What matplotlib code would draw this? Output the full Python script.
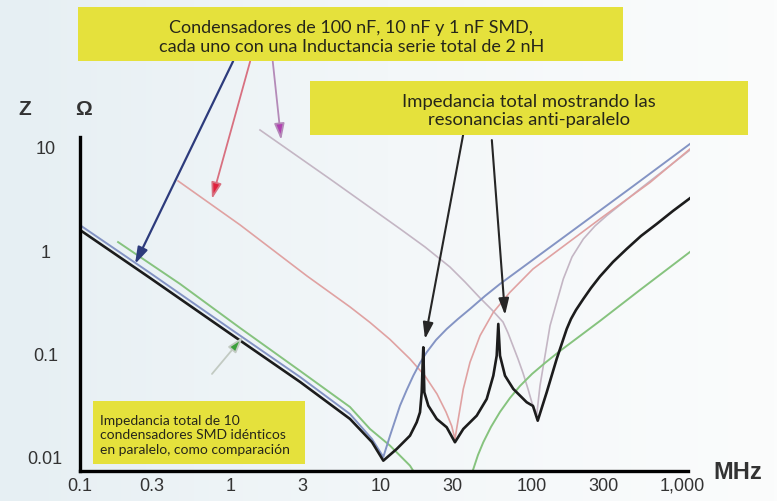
import numpy as np
import matplotlib.pyplot as plt
from matplotlib.colors import LinearSegmentedColormap
from matplotlib.patches import Rectangle
from matplotlib.ticker import FixedLocator, NullLocator

# Frequencies in MHz, impedance in ohms
f_100n = [0.1, 0.292, 1.0, 2.9, 6.22, 8.71, 10.36, 11.48, 13.37, 14.82, 16.39, 18.16, 20.12,
          23.2, 27.32, 32.47, 39.03, 49.09, 61.75, 171.4, 475, 1130]
z_100n = [1.75, 0.603, 0.173, 0.0593, 0.026, 0.0149, 0.00998, 0.01604, 0.0313, 0.04443, 0.0611,
          0.0811, 0.103, 0.1354, 0.173, 0.2163, 0.2703, 0.361, 0.4719, 1.406, 4.19, 10.7]

f_10n = [0.448, 1.157, 3.22, 6.22, 8.45, 11.48, 15.58, 19.61, 23.56, 27.03, 29.49, 31.0, 32.62,
         35.22, 39.03, 45.5, 55.75, 71.94, 102.3, 285, 613, 1130]
z_10n = [4.69, 1.76, 0.564, 0.283, 0.2, 0.1369, 0.0887, 0.0607, 0.0406, 0.02721, 0.01991, 0.0149,
         0.0233, 0.0454, 0.0824, 0.149, 0.251, 0.392, 0.659, 2.01, 4.53, 9.56]

f_1n = [1.57, 4.58, 13.4, 19.61, 28.7, 36.14, 45.5, 54.65, 64.66, 69.82, 75.36, 81.36, 87.8, 94.8,
        100.8, 108.3, 113.9, 132.8, 162.7, 185.8, 221, 264.2, 316, 526, 1130]
z_1n = [14.6, 4.90, 1.61, 1.076, 0.689, 0.4934, 0.3453, 0.2643, 0.2022, 0.1582, 0.1185, 0.0887,
        0.0649, 0.0454, 0.0332, 0.02544, 0.0489, 0.1862, 0.5275, 0.861, 1.286, 1.719, 2.163, 3.92,
        9.35]

f_total = [0.1, 0.292, 1.0, 2.9, 6.22, 8.71, 10.36, 12.72, 15.58, 17.27, 18.16, 18.64, 18.93,
           19.10, 19.40, 20.62, 23.45, 27.32, 31.0, 35.22, 43.25, 50.4, 55.75, 58.72, 60.17,
           61.75, 66.66, 75.7, 92.9, 102.3, 110.0, 126.2, 147.0, 171.4, 183.0, 197.6, 221, 248.5,
           285, 348, 429, 534, 679, 871, 1130]
z_total = [1.57, 0.539, 0.155, 0.0531, 0.0233, 0.0139, 0.00919, 0.01193, 0.01604, 0.02163,
           0.02703, 0.04221, 0.0824, 0.115, 0.0422, 0.0313, 0.0233, 0.01934, 0.01385, 0.01862,
           0.02505, 0.03635, 0.0611, 0.0954, 0.1935, 0.0954, 0.0611, 0.04544, 0.03378, 0.0311,
           0.0224, 0.0422, 0.0887, 0.173, 0.2163, 0.2643, 0.3378, 0.4315, 0.5577, 0.7705, 1.03,
           1.375, 1.798, 2.402, 3.19]

f_10x = [0.179, 0.462, 1.157, 2.9, 6.22, 8.45, 11.48, 15.58, 28.7, 40.05, 44.1, 47.83, 53.8,
         61.75, 71.94, 83.9, 100.8, 122.9, 154.6, 210, 285, 526, 1130]
z_10x = [1.20, 0.472, 0.177, 0.0679, 0.0304, 0.01862, 0.01284, 0.00822, 0.002, 0.00683, 0.01043,
         0.01385, 0.01948, 0.02721, 0.03717, 0.04859, 0.0635, 0.0811, 0.1060, 0.1481, 0.2068,
         0.4127, 0.963]

x_ticks = [0.1, 0.3, 1, 3, 10, 30, 100, 300, 1000]
x_tick_labels = ['0.1', '0.3', '1', '3', '10', '30', '100', '300', '1,000']
y_ticks = [10, 1, 0.1, 0.01]
y_tick_labels = ['10', '1', '0.1', '0.01']

# Arrow targets on the curves (MHz, ohm)
arrow_100n = (0.232, 0.737)
arrow_10n = (0.753, 3.14)
arrow_1n = (2.17, 11.7)
arrow_10x = (1.21, 0.145)
arrow_10x_tail = (0.753, 0.0635)
arrow_peak1 = (19.6, 0.138)
arrow_peak2 = (66.7, 0.236)

YELLOW = '#e5e13c'
TEXT_DARK = '#26261a'


def main():
    fig = plt.figure(figsize=(7.77, 5.02), dpi=100)
    fig.patch.set_facecolor('#eef4f6')

    # soft background shading like the photographed slide
    bg = fig.add_axes([0, 0, 1, 1], zorder=-5)
    grad = np.linspace(0, 1, 256)[None, :]
    bg.imshow(grad, aspect='auto', extent=[0, 1, 0, 1],
              cmap=LinearSegmentedColormap.from_list('bg', ['#e6eff3', '#f3f7f9', '#fbfcfc']))
    bg.axis('off')

    ax = fig.add_axes([0.103, 0.0598, 0.785, 0.7074])
    ax.set_facecolor('none')
    ax.set_xscale('log')
    ax.set_yscale('log')
    ax.set_xlim(0.1, 1130)
    ax.set_ylim(0.0073, 20)

    ax.plot(f_1n, z_1n, color='#c4b6c4', lw=1.2)
    ax.plot(f_10n, z_10n, color='#e0a2a2', lw=1.2)
    ax.plot(f_10x, z_10x, color='#86c37e', lw=1.4)
    ax.plot(f_100n, z_100n, color='#8494c4', lw=1.4)
    ax.plot(f_total, z_total, color='#1c1c1c', lw=1.9)

    for side in ['top', 'right']:
        ax.spines[side].set_visible(False)
    ax.spines['left'].set_linewidth(2.4)
    ax.spines['bottom'].set_linewidth(2.4)
    ax.spines['left'].set_bounds(0.0073, 12.5)
    ax.spines['bottom'].set_bounds(0.1, 1097)

    ax.xaxis.set_major_locator(FixedLocator(x_ticks))
    ax.xaxis.set_minor_locator(NullLocator())
    ax.yaxis.set_major_locator(FixedLocator(y_ticks))
    ax.yaxis.set_minor_locator(NullLocator())
    ax.set_xticklabels(x_tick_labels)
    ax.set_yticklabels(y_tick_labels)
    ax.tick_params(axis='both', length=0, labelsize=13, labelcolor='#333333')
    ax.tick_params(axis='x', pad=4)
    ax.tick_params(axis='y', pad=25)
    for lab in ax.get_yticklabels():
        lab.set_horizontalalignment('center')
        lab.set_family('Liberation Sans')
    for lab in ax.get_xticklabels():
        lab.set_family('Liberation Sans')

    fig.text(0.032, 0.782, 'Z', fontsize=15, fontweight='bold', color='#333333',
             ha='center', va='center', family='Liberation Sans')
    fig.text(0.107, 0.782, 'Ω', fontsize=15, fontweight='bold', color='#333333',
             ha='center', va='center', family='Liberation Sans')
    fig.text(0.950, 0.058, 'MHz', fontsize=17, fontweight='bold', color='#333333',
             ha='center', va='center', family='Liberation Sans')

    # yellow call-out boxes
    for rect in [(0.1004, 0.8765, 0.7014, 0.1076),
                 (0.399, 0.729, 0.5637, 0.1076),
                 (0.1197, 0.0737, 0.273, 0.1255)]:
        fig.patches.append(Rectangle(rect[:2], rect[2], rect[3], transform=fig.transFigure,
                                     facecolor=YELLOW, edgecolor='none', zorder=2))

    fig.text(0.452, 0.925, 'Condensadores de 100 nF, 10 nF y 1 nF SMD,\n'
             'cada uno con una Inductancia serie total de 2 nH',
             ha='center', va='center', fontsize=13, color=TEXT_DARK, family='Lato',
             linespacing=1.25, zorder=3)
    fig.text(0.681, 0.779, 'Impedancia total mostrando las\nresonancias anti-paralelo',
             ha='center', va='center', fontsize=13.3, color=TEXT_DARK, family='Lato',
             linespacing=1.22, zorder=3)
    fig.text(0.129, 0.1325, 'Impedancia total de 10\ncondensadores SMD idénticos\n'
             'en paralelo, como comparación',
             ha='left', va='center', fontsize=10, color=TEXT_DARK, family='Lato',
             linespacing=1.25, zorder=3)

    # arrows from the boxes to the curves
    def arrow(target, tail, line_col, head_col, lw=1.3, coords='figure fraction'):
        ax.annotate('', xy=target, xycoords='data', xytext=tail, textcoords=coords,
                    annotation_clip=False,
                    arrowprops=dict(arrowstyle='-|>,head_length=0.7,head_width=0.22',
                                    ec=line_col, fc=head_col, lw=lw,
                                    shrinkA=0, shrinkB=0, mutation_scale=14))

    arrow(arrow_100n, (0.300, 0.876), '#2d3b7c', '#2d3b7c', lw=1.6)
    arrow(arrow_10n, (0.322, 0.876), '#d87080', '#e0203c')
    arrow(arrow_1n, (0.351, 0.876), '#b48ab8', '#b040b0')
    arrow(arrow_10x, arrow_10x_tail, '#c2cac2', '#3ca03c', coords='data')
    arrow(arrow_peak1, (0.596, 0.729), '#262626', '#262626', lw=1.5)
    arrow(arrow_peak2, (0.633, 0.719), '#262626', '#262626', lw=1.5)

    fig.savefig('out.png', dpi=100)


if __name__ == '__main__':
    main()
